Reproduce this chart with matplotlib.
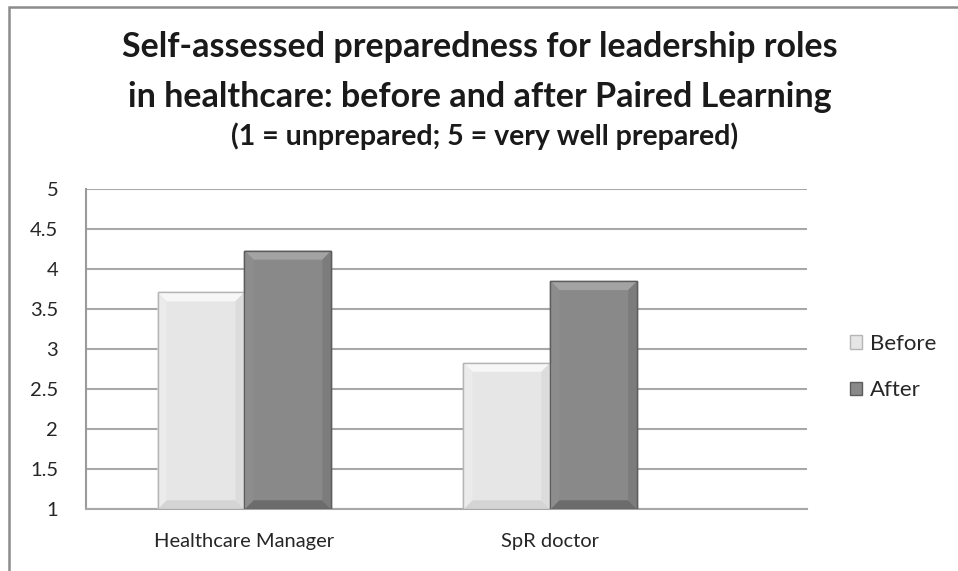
import matplotlib
matplotlib.use("Agg")
import matplotlib.pyplot as plt
from matplotlib.patches import Polygon, Rectangle
import numpy as np

categories = ["Healthcare Manager", "SpR doctor"]
before = [3.71, 2.83]
after = [4.23, 3.85]
series_names = ["Before", "After"]
yticks = [1, 1.5, 2, 2.5, 3, 3.5, 4, 4.5, 5]
ytick_labels = ["1", "1.5", "2", "2.5", "3", "3.5", "4", "4.5", "5"]

FONT = ["Lato", "DejaVu Sans"]
plt.rcParams['font.family'] = FONT

W, H = 958, 571
fig = plt.figure(figsize=(W / 100, H / 100), dpi=100)
fig.patch.set_facecolor("white")

# outer chart border
fig.add_artist(Rectangle((9 / W, -0.05), 1.2, 1 - 7 / H + 0.05, transform=fig.transFigure,
                         fill=False, edgecolor="#8c8c8c", lw=1.8))

ax = fig.add_axes([86 / W, (H - 509.3) / H, (807 - 86) / W, (509.3 - 189) / H])
ax.set_facecolor("white")
ax.set_xlim(-0.518, 1.839)
ax.set_ylim(1, 5)

x = np.arange(len(categories))
bw = 0.284
face = {"Before": "#e6e6e6", "After": "#898989"}
bev = {"Before": dict(top="#f7f7f7", left="#ebebeb", right="#dcdcdc", bot="#d4d4d4", edge="#b5b5b5"),
       "After": dict(top="#a3a3a3", left="#8d8d8d", right="#7c7c7c", bot="#6c6c6c", edge="#5c5c5c")}

ax.set_yticks(yticks)
ax.set_yticklabels(ytick_labels)
ax.yaxis.grid(True, color="#a8a8a8", lw=1.5)
ax.set_axisbelow(True)
for s in ["top", "right"]:
    ax.spines[s].set_visible(False)
ax.spines["left"].set_color("#9a9a9a")
ax.spines["left"].set_linewidth(1.5)
ax.spines["bottom"].set_color("#a8a8a8")
ax.spines["bottom"].set_linewidth(1.5)
ax.tick_params(axis="both", length=0, labelsize=14.5, labelcolor="#262626")
ax.tick_params(axis="y", pad=20)
ax.tick_params(axis="x", pad=17)
ax.set_xticks(x)
ax.set_xticklabels(categories)

bars_b = ax.bar(x - bw / 2, before, bw, bottom=0, color=face["Before"], edgecolor=bev["Before"]["edge"],
                lw=1.0, label="Before", zorder=3)
bars_a = ax.bar(x + bw / 2, after, bw, bottom=0, color=face["After"], edgecolor=bev["After"]["edge"],
                lw=1.0, label="After", zorder=3)

# bevel overlays computed from bar geometry
inv = ax.transData.inverted()
p0 = inv.transform((0, 0))
p1 = inv.transform((9, 9))
dx, dy = p1[0] - p0[0], p1[1] - p0[1]
for name, bars in (("Before", bars_b), ("After", bars_a)):
    c = bev[name]
    for r in bars:
        x0, x1 = r.get_x(), r.get_x() + r.get_width()
        y0, y1 = 1.0, r.get_height()
        polys = [
            ([(x0, y1), (x1, y1), (x1 - dx, y1 - dy), (x0 + dx, y1 - dy)], c["top"]),
            ([(x0, y0), (x1, y0), (x1 - dx, y0 + dy), (x0 + dx, y0 + dy)], c["bot"]),
            ([(x0, y0), (x0, y1), (x0 + dx, y1 - dy), (x0 + dx, y0 + dy)], c["left"]),
            ([(x1, y0), (x1, y1), (x1 - dx, y1 - dy), (x1 - dx, y0 + dy)], c["right"]),
        ]
        for pts, col in polys:
            ax.add_patch(Polygon(pts, closed=True, facecolor=col, edgecolor="none", zorder=3.5))
        ax.add_patch(Rectangle((x0, 1.0), x1 - x0, y1 - 1.0, fill=False,
                               edgecolor=c["edge"], lw=1.0, zorder=3.6))

leg = fig.legend(handles=[bars_b, bars_a], labels=series_names, loc="center left",
                 bbox_to_anchor=(830 / W, (H - 367) / H), frameon=False, fontsize=16,
                 handlelength=0.55, handleheight=0.55, handletextpad=0.35, labelspacing=1.2)
for t in leg.get_texts():
    t.set_color("#262626")

fig.text(480 / W, 1 - 47 / H, "Self-assessed preparedness for leadership roles",
         ha="center", va="center", fontsize=24.5, fontweight="bold", color="#1a1a1a")
fig.text(480 / W, 1 - 97 / H, "in healthcare: before and after Paired Learning",
         ha="center", va="center", fontsize=24.5, fontweight="bold", color="#1a1a1a")
fig.text(485 / W, 1 - 136 / H, "(1 = unprepared; 5 = very well prepared)",
         ha="center", va="center", fontsize=20.5, fontweight="bold", color="#1a1a1a")

fig.savefig("out.png", dpi=100, facecolor="white")
